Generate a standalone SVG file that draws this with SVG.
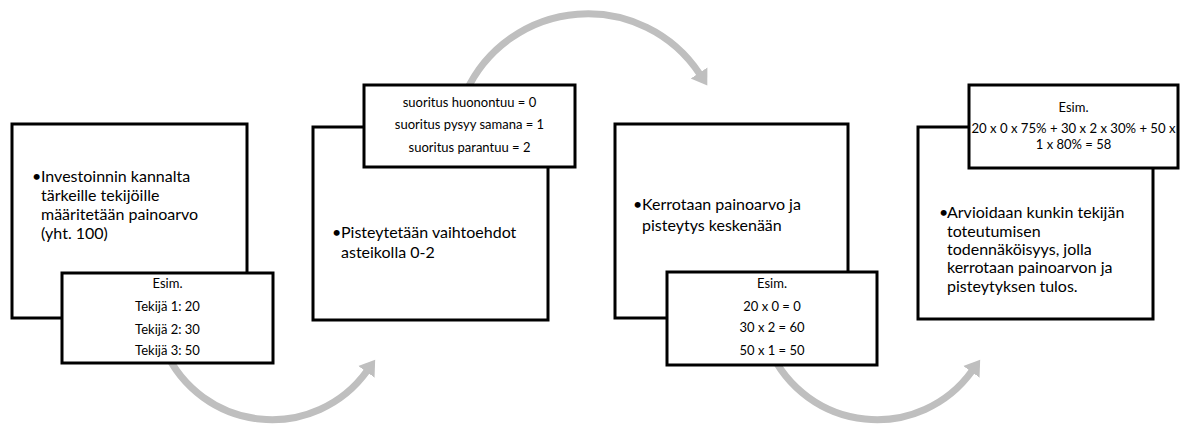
<svg xmlns="http://www.w3.org/2000/svg" width="1186" height="428" viewBox="0 0 1186 428">
<style>
.box{fill:#fff;stroke:#000;stroke-width:3}
.main{font-family:Lato,"Liberation Sans",sans-serif;font-size:16px;fill:#000}
.sub{font-family:Lato,"Liberation Sans",sans-serif;font-size:13px;fill:#000;text-anchor:middle}
.arc{fill:none;stroke:#BFBFBF;stroke-width:7}
</style>
<defs>
<marker id="head" markerUnits="userSpaceOnUse" markerWidth="18" markerHeight="22" viewBox="0 -11 18 22" refX="1" refY="0" orient="auto">
<path d="M0,-10 L15,0 L0,10 z" fill="#BFBFBF"/>
</marker>
</defs>
<rect width="1186" height="428" fill="#fff"/>
<g id="connectors">
<path class="arc" d="M165,350 A117,117 0 0 0 367,371" marker-end="url(#head)"/>
<path class="arc" d="M466,92 A134,134 0 0 1 699.6,73.9" marker-end="url(#head)"/>
<path class="arc" d="M770,350 A117,117 0 0 0 972,371" marker-end="url(#head)"/>
</g>
<g id="step1">
<rect class="box" x="12" y="124" width="235" height="194"/>
<text class="main"><tspan x="32" y="182">•</tspan><tspan x="41" y="182">Investoinnin kannalta</tspan><tspan x="41" y="201">tärkeille tekijöille</tspan><tspan x="41" y="220">määritetään painoarvo</tspan><tspan x="41" y="239">(yht. 100)</tspan></text>
</g>
<g id="example1">
<rect class="box" x="62" y="273" width="211" height="90"/>
<text class="sub"><tspan x="167.5" y="288">Esim.</tspan><tspan x="167.5" y="311">Tekijä 1: 20</tspan><tspan x="167.5" y="334">Tekijä 2: 30</tspan><tspan x="167.5" y="355">Tekijä 3: 50</tspan></text>
</g>
<g id="step2">
<rect class="box" x="313" y="127" width="235" height="193"/>
<text class="main"><tspan x="332" y="238">•</tspan><tspan x="341" y="238">Pisteytetään vaihtoehdot</tspan><tspan x="341" y="258">asteikolla 0-2</tspan></text>
</g>
<g id="scale2">
<rect class="box" x="364" y="85" width="211" height="82"/>
<text class="sub"><tspan x="469.5" y="107">suoritus huonontuu = 0</tspan><tspan x="469.5" y="129">suoritus pysyy samana = 1</tspan><tspan x="469.5" y="152">suoritus parantuu = 2</tspan></text>
</g>
<g id="step3">
<rect class="box" x="615" y="124" width="233" height="194"/>
<text class="main"><tspan x="633" y="210">•</tspan><tspan x="642" y="210">Kerrotaan painoarvo ja</tspan><tspan x="642" y="231">pisteytys keskenään</tspan></text>
</g>
<g id="example3">
<rect class="box" x="667" y="272" width="210" height="93"/>
<text class="sub"><tspan x="772" y="288">Esim.</tspan><tspan x="772" y="311">20 x 0 = 0</tspan><tspan x="772" y="332">30 x 2 = 60</tspan><tspan x="772" y="355">50 x 1 = 50</tspan></text>
</g>
<g id="step4">
<rect class="box" x="918" y="127" width="235" height="192"/>
<text class="main"><tspan x="939" y="218">•</tspan><tspan x="947" y="218">Arvioidaan kunkin tekijän</tspan><tspan x="947" y="237">toteutumisen</tspan><tspan x="947" y="255">todennäköisyys, jolla</tspan><tspan x="947" y="273">kerrotaan painoarvon ja</tspan><tspan x="947" y="292">pisteytyksen tulos.</tspan></text>
</g>
<g id="example4">
<rect class="box" x="969" y="85" width="209" height="83"/>
<text class="sub"><tspan x="1073.5" y="112">Esim.</tspan><tspan x="1073.5" y="133" textLength="204" lengthAdjust="spacingAndGlyphs">20 x 0 x 75% + 30 x 2 x 30% + 50 x</tspan><tspan x="1073.5" y="149">1 x 80% = 58</tspan></text>
</g>
</svg>
